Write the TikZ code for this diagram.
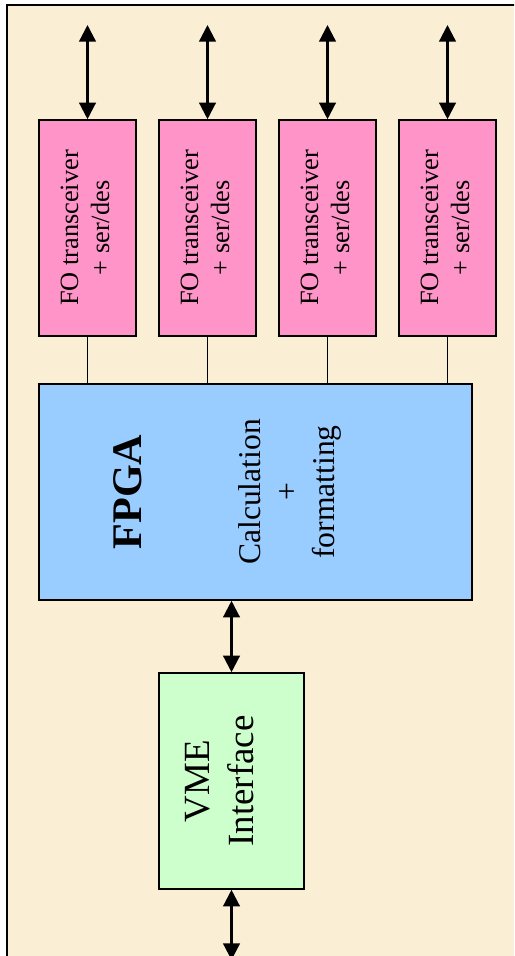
\documentclass[tikz,border=0pt]{standalone}
\usepackage{fontspec}
\setmainfont{Liberation Serif}
\usepackage{xcolor}
\definecolor{parchemin}{HTML}{FAEFD4}
\definecolor{rose}{HTML}{FF94C9}
\definecolor{ciel}{HTML}{99CCFF}
\definecolor{menthe}{HTML}{CCFFCC}
\usepackage{tikz}
\usetikzlibrary{arrows.meta,calc}

\newcommand{\turntext}[1]{\rotatebox{90}{\begin{tabular}{@{}c@{}}#1\end{tabular}}}

\begin{document}
\begin{tikzpicture}[x=0.02cm,y=-0.02cm,
  fo/.style={draw,line width=0.9pt,fill=rose,minimum width=1.94cm,minimum height=4.32cm,inner sep=0pt,font=\fontsize{15}{17.6}\selectfont},
  bloc/.style={draw,line width=0.9pt,minimum height=4.32cm,inner sep=0pt},
  texte/.style={rotate=90,align=center,inner sep=0pt},
  fleche/.style={{Triangle[length=9.5pt,width=9.5pt]}-{Triangle[length=9.5pt,width=9.5pt]},line width=1.3pt},
  lien/.style={line width=0.7pt}
]
\useasboundingbox (0,0) rectangle (514,956);
\clip (0,0) rectangle (514,956);
\fill[white] (0,0) rectangle (514,956);
\fill[parchemin] (7,5) rectangle (514,956);
\draw[line width=1.3pt] (7,960) |- (520,5);

\node[fo] (fo1) at (87.5,228) {\turntext{FO transceiver\\+ ser/des}};
\node[fo] (fo2) at (207.5,228) {\turntext{FO transceiver\\+ ser/des}};
\node[fo] (fo3) at (327.5,228) {\turntext{FO transceiver\\+ ser/des}};
\node[fo] (fo4) at (447.5,228) {\turntext{FO transceiver\\+ ser/des}};

\node[bloc,fill=ciel,minimum width=8.66cm] (fpga) at (255.5,492) {};
\node[texte,font=\bfseries\fontsize{24}{28}\selectfont] (nom) at (128,492) {FPGA};
\node[texte,font=\fontsize{18}{21.3}\selectfont] (calc) at (290,492) {Calculation\\+\\formatting};

\node[bloc,fill=menthe,minimum width=2.9cm] (vme) at (231.5,781) {};
\node[texte,font=\fontsize{21}{25}\selectfont] (vmetxt) at (220,781) {VME\\Interface};

\coordinate (h1) at (87.5,25);
\coordinate (h2) at (207.5,25);
\coordinate (h3) at (327.5,25);
\coordinate (h4) at (447.5,25);
\coordinate (bas) at (231.5,960);

\draw[fleche] (h1) -- (fo1);
\draw[fleche] (h2) -- (fo2);
\draw[fleche] (h3) -- (fo3);
\draw[fleche] (h4) -- (fo4);
\draw[lien] (fo1.south) -- (fo1.south |- fpga.north);
\draw[lien] (fo2.south) -- (fo2.south |- fpga.north);
\draw[lien] (fo3.south) -- (fo3.south |- fpga.north);
\draw[lien] (fo4.south) -- (fo4.south |- fpga.north);
\draw[fleche] (vme.north |- fpga.south) -- (vme);
\draw[fleche] (vme) -- (bas);
\end{tikzpicture}
\end{document}
